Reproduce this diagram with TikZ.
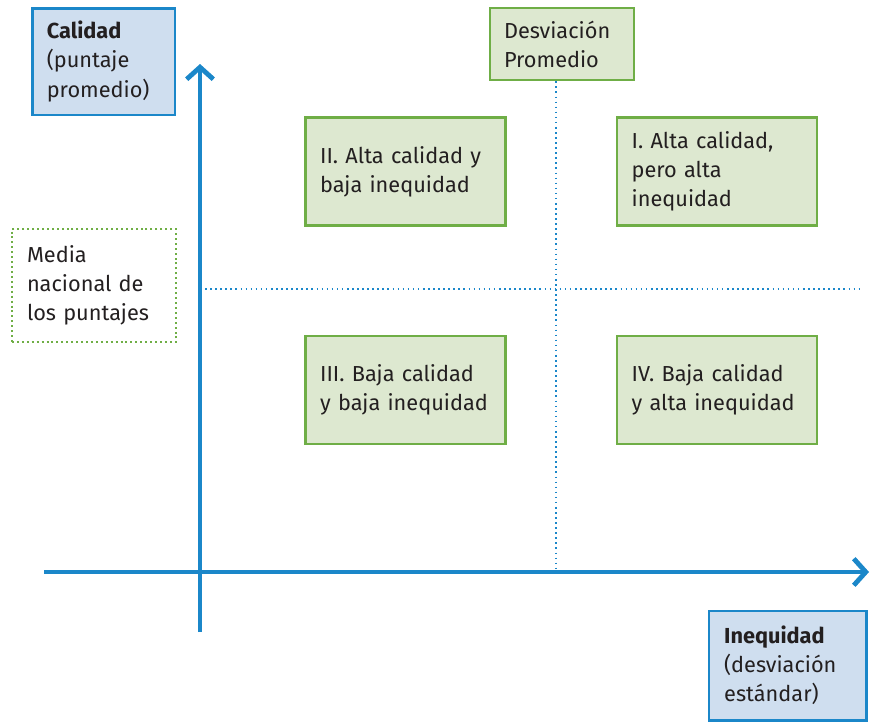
\documentclass[tikz,border=0pt]{standalone}
\usepackage{fontspec}
\setmainfont{Fira Sans}
\usetikzlibrary{arrows.meta}
\definecolor{axblue}{HTML}{1B87C9}
\definecolor{bfill}{HTML}{CFDEEF}
\definecolor{gline}{HTML}{6FAE46}
\definecolor{gfill}{HTML}{DDE8D0}
\definecolor{txt}{HTML}{231F20}
\tikzset{
  lbl/.style={align=left, inner sep=0pt, text=txt, font=\fontsize{16.3}{21.8}\selectfont},
  quad/.style={lbl, draw=gline, line width=2pt, fill=gfill, minimum width=150pt, minimum height=81pt, text width=128pt},
  axlabel/.style={lbl, draw=axblue, line width=2pt, fill=bfill},
  axis/.style={draw=axblue, line width=3.6pt, -{Straight Barb[length=9pt,width=20pt,line width=3.6pt]}},
  guide/.style={draw=axblue, line width=1.2pt, dash pattern=on 1.2pt off 2.6pt},
}
\begin{document}
\begin{tikzpicture}[x=0.75pt,y=-0.75pt]
\useasboundingbox (0,0) rectangle (870,721);
% axis label boxes
\node[axlabel, minimum width=107pt, minimum height=80pt, text width=85pt] (cal) at (103.5,61.5) {\textbf{Calidad}\\(puntaje\\promedio)};
\node[axlabel, minimum width=118pt, minimum height=82pt, text width=95pt] (ineq) at (787.5,665.5) {\textbf{Inequidad}\\(desviación\\estándar)};
% desviacion box
\node[quad, minimum width=108pt, minimum height=54pt, text width=87pt] (desv) at (562,44) {Desviación\\Promedio};
% media box
\node[lbl, draw=gline, line width=1.5pt, dash pattern=on 1.5pt off 2.2pt, minimum width=123pt, minimum height=85pt, text width=100.5pt] (media) at (94,285.5) {Media\\nacional de\\los puntajes};
% coordinates
\coordinate (ybot) at (200,632);
\coordinate (ytop) at (200,64);
\coordinate (xleft) at (44,572);
\coordinate (xright) at (869,572);
\coordinate (hstart) at (200,289);
\coordinate (hend) at (863,289);
\coordinate (vend) at (556,572);
% guides
\draw[guide] (desv.south -| vend) -- (vend);
\draw[guide] (hstart) -- (hend);
% axes
\draw[axis] (ybot) -- (ytop);
\draw[axis] (xleft) -- (xright);
% quadrants
\node[quad] (q2) at (405.5,171.5) {II. Alta calidad y\\baja inequidad};
\node[quad] (q1) at (717,171.5) {I. Alta calidad,\\pero alta\\inequidad};
\node[quad] (q3) at (405.5,390) {III. Baja calidad\\y baja inequidad};
\node[quad] (q4) at (717,390) {IV. Baja calidad\\y alta inequidad};
\end{tikzpicture}
\end{document}
